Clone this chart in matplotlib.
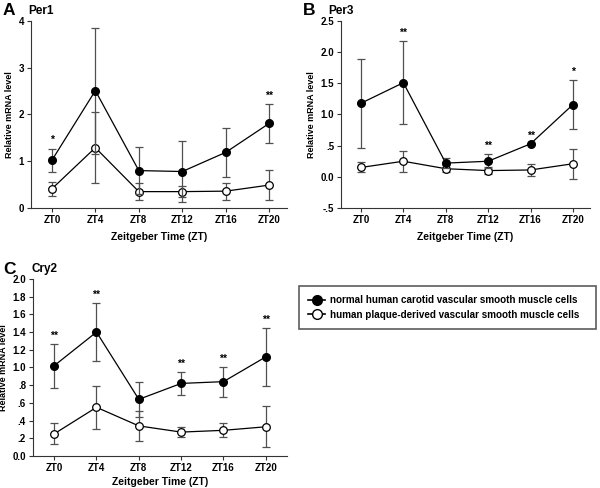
import matplotlib.pyplot as plt
import numpy as np

plt.rcParams['font.family'] = ['Liberation Sans', 'DejaVu Sans']
plt.rcParams['font.weight'] = 'bold'

zt_labels = ["ZT0", "ZT4", "ZT8", "ZT12", "ZT16", "ZT20"]

# Per1
per1_normal = [1.02, 2.51, 0.80, 0.78, 1.19, 1.81]
per1_normal_err = [0.25, 1.35, 0.50, 0.65, 0.52, 0.41]
per1_plaque = [0.41, 1.29, 0.35, 0.35, 0.36, 0.49]
per1_plaque_err = [0.15, 0.76, 0.18, 0.11, 0.18, 0.32]
per1_stars = ["*", "", "", "", "", "**"]

# Per3
per3_normal = [1.18, 1.51, 0.22, 0.25, 0.53, 1.16]
per3_normal_err = [0.71, 0.67, 0.08, 0.11, 0.0, 0.39]
per3_plaque = [0.15, 0.25, 0.13, 0.10, 0.11, 0.21]
per3_plaque_err = [0.08, 0.17, 0.06, 0.06, 0.10, 0.24]
per3_stars = ["", "**", "", "**", "**", "*"]

# Cry2
cry2_normal = [1.02, 1.40, 0.64, 0.82, 0.84, 1.12]
cry2_normal_err = [0.25, 0.33, 0.20, 0.13, 0.17, 0.33]
cry2_plaque = [0.25, 0.55, 0.34, 0.27, 0.29, 0.33]
cry2_plaque_err = [0.12, 0.24, 0.17, 0.06, 0.08, 0.23]
cry2_stars = ["**", "**", "", "**", "**", "**"]

legend_labels = ["normal human carotid vascular smooth muscle cells",
                 "human plaque-derived vascular smooth muscle cells"]


def draw_panel(ax, normal, nerr, plaque, perr, stars, ylim, yticks, yticklabels,
               letter, gene, xlim, star_off, letter_x, gene_x, xpad=5):
    x = np.arange(len(zt_labels))
    ekw = dict(ecolor='#505050', elinewidth=0.9, capsize=3, capthick=0.9)
    ax.errorbar(x, plaque, yerr=perr, fmt='-o', color='black', lw=0.9,
                mfc='white', mec='black', mew=0.9, ms=5.5, zorder=3, **ekw)
    ax.errorbar(x, normal, yerr=nerr, fmt='-o', color='black', lw=0.9,
                mfc='black', mec='black', ms=5.5, zorder=4, **ekw)
    for xi, v, e, s in zip(x, normal, nerr, stars):
        if s:
            ax.text(xi, v + e + star_off, s, ha='center', va='bottom',
                    fontsize=7.5, fontweight='bold')
    ax.set_xlim(*xlim)
    ax.set_ylim(*ylim)
    ax.set_xticks(x)
    ax.set_xticklabels(zt_labels, fontsize=7, fontweight='bold')
    ax.set_yticks(yticks)
    ax.set_yticklabels(yticklabels, fontsize=7, fontweight='bold')
    ax.spines['top'].set_visible(False)
    ax.spines['right'].set_visible(False)
    for sp in ('left', 'bottom'):
        ax.spines[sp].set_linewidth(0.8)
        ax.spines[sp].set_color('#333333')
    ax.tick_params(direction='out', length=3, width=0.8, color='#333333', pad=2)
    ax.set_xlabel("Zeitgeber Time (ZT)", fontsize=7.5, fontweight='bold', labelpad=xpad)
    ax.set_ylabel("Relative mRNA level", fontsize=6.5, fontweight='bold', labelpad=3)
    ax.text(letter_x, 1.03, letter, transform=ax.transAxes, fontsize=12.5,
            fontweight='bold', ha='left', va='baseline')
    ax.text(gene_x, 1.037, gene, transform=ax.transAxes, fontsize=8.5,
            fontweight='bold', ha='left', va='baseline')


fig = plt.figure(figsize=(6.0, 4.88), dpi=100)

axA = fig.add_axes([0.0517, 0.5738, 0.4267, 0.3832])
draw_panel(axA, per1_normal, per1_normal_err, per1_plaque, per1_plaque_err,
           per1_stars, (0, 4), [0, 1, 2, 3, 4], ["0", "1", "2", "3", "4"],
           "A", "Per1", (-0.48, 5.41), 0.08, -0.11, -0.01)

axB = fig.add_axes([0.5683, 0.5738, 0.415, 0.3832])
draw_panel(axB, per3_normal, per3_normal_err, per3_plaque, per3_plaque_err,
           per3_stars, (-0.5, 2.5), [-0.5, 0, 0.5, 1.0, 1.5, 2.0, 2.5],
           ["-.5", "0.0", ".5", "1.0", "1.5", "2.0", "2.5"],
           "B", "Per3", (-0.47, 5.4), 0.05, -0.153, -0.052)

axC = fig.add_axes([0.055, 0.0656, 0.4233, 0.3627])
draw_panel(axC, cry2_normal, cry2_normal_err, cry2_plaque, cry2_plaque_err,
           cry2_stars, (0, 2.0), np.arange(0, 2.01, 0.2),
           ["0.0", ".2", ".4", ".6", ".8", "1.0", "1.2", "1.4", "1.6", "1.8", "2.0"],
           "C", "Cry2", (-0.5, 5.5), 0.03, -0.118, -0.004, xpad=3)

h1, = axC.plot([], [], '-o', color='black', mfc='black', ms=7, lw=1.2)
h2, = axC.plot([], [], '-o', color='black', mfc='white', ms=7, lw=1.2)
leg = fig.legend([h1, h2], legend_labels, loc='center left',
                 bbox_to_anchor=(0.498, 0.328, 0.495, 0.084), mode='expand',
                 prop={'size': 7.1, 'weight': 'bold'}, handlelength=1.8,
                 handletextpad=0.5, borderpad=0.9, labelspacing=0.45,
                 borderaxespad=0, fancybox=False, frameon=True)
leg.get_frame().set_edgecolor('#333333')
leg.get_frame().set_linewidth(1.2)

fig.savefig("out.png", dpi=100)
